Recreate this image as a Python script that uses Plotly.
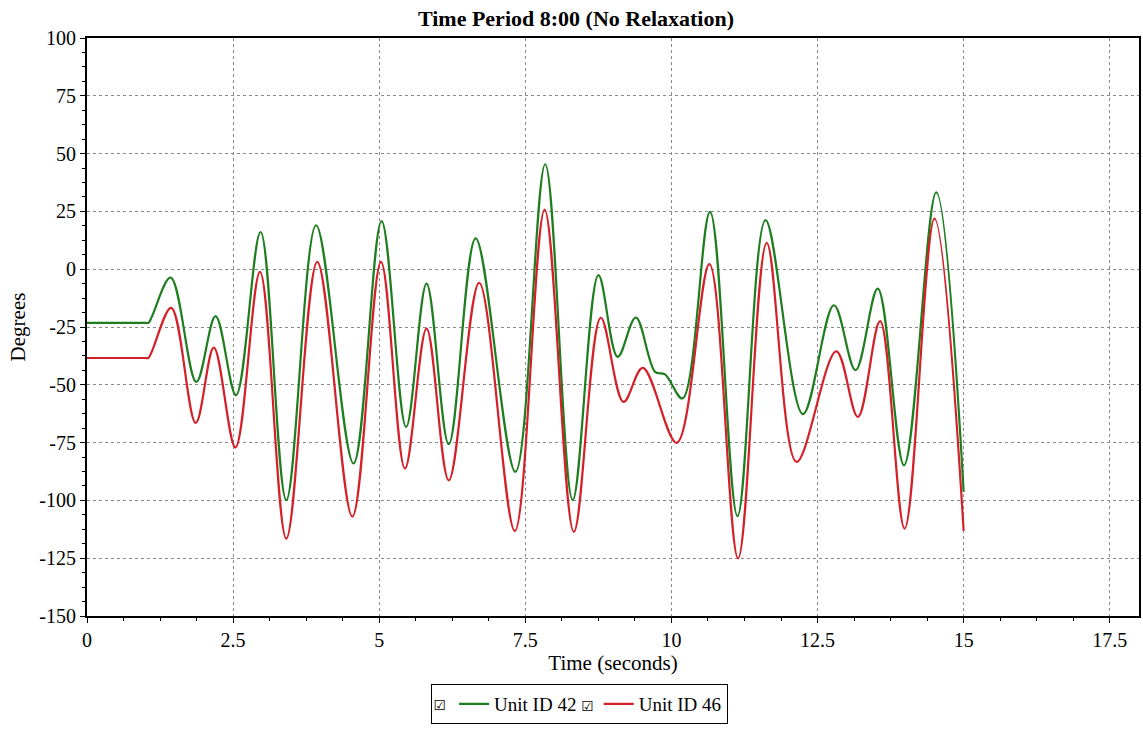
import plotly.graph_objects as go

# ---- data ----
t_42 = [0, 0.5, 1.0, 1.05, 1.43, 1.87, 2.20, 2.55, 2.97, 3.41, 3.92, 4.56, 5.04, 5.46, 5.81,
        6.19, 6.65, 7.33, 7.84, 8.31, 8.75, 9.08, 9.39, 9.72, 9.89, 10.19, 10.66, 11.13,
        11.61, 12.25, 12.78, 13.15, 13.53, 13.98, 14.53, 15.0]
deg_42 = [-23.2, -23.2, -23.2, -23.2, -3.6, -48.7, -20.3, -54.5, 16.1, -99.9, 19.0, -84.0, 20.8,
          -68.2, -6.2, -75.7, 13.3, -87.7, 45.4, -99.9, -2.6, -37.9, -20.9, -44.4, -45.5,
          -55.9, 24.8, -106.8, 21.2, -62.7, -15.6, -43.7, -8.4, -84.8, 33.2, -96.3]

t_46 = [0, 0.5, 1.0, 1.05, 1.44, 1.86, 2.17, 2.54, 2.96, 3.41, 3.94, 4.54, 5.03, 5.44, 5.81,
        6.19, 6.71, 7.32, 7.83, 8.33, 8.79, 9.18, 9.51, 10.09, 10.65, 11.14, 11.63, 12.14,
        12.82, 13.19, 13.57, 13.99, 14.50, 15.0]
deg_46 = [-38.4, -38.4, -38.4, -38.4, -16.7, -66.5, -33.9, -77.1, -1.2, -116.5, 3.2, -107.0, 3.2,
          -86.2, -25.7, -91.3, -5.9, -113.2, 25.8, -113.6, -21.0, -57.4, -42.7, -75.1, 2.2,
          -125.1, 11.4, -83.3, -35.5, -63.9, -22.5, -112.2, 21.9, -113.2]

x_ticks = [0, 2.5, 5, 7.5, 10, 12.5, 15, 17.5]
x_tick_text = ["0", "2.5", "5", "7.5", "10", "12.5", "15", "17.5"]
y_ticks = [-150, -125, -100, -75, -50, -25, 0, 25, 50, 75, 100]
y_tick_text = ["-150", "-125", "-100", "-75", "-50", "-25", "0", "25", "50", "75", "100"]

SERIF = "Liberation Serif"
CHECK = "<span style='font-family:DejaVu Sans;font-size:14px'>☑</span>"

fig = go.Figure()
fig.add_trace(go.Scatter(x=t_42, y=deg_42, mode="lines", name="Unit ID 42 " + CHECK,
                         line=dict(color="#1E7D1E", width=2.2, shape="spline", smoothing=1)))
fig.add_trace(go.Scatter(x=t_46, y=deg_46, mode="lines", name="Unit ID 46",
                         line=dict(color="#D42028", width=2.2, shape="spline", smoothing=1)))

axis_common = dict(
    showline=True, linecolor="black", linewidth=2, mirror=True,
    ticks="outside", ticklen=5, tickwidth=1, tickcolor="black",
    showgrid=True, gridcolor="#8a8a8a", gridwidth=1, griddash="3px,3px",
    zeroline=False, tickfont=dict(family=SERIF, size=20, color="black"),
)

fig.update_xaxes(range=[0, 18], tickvals=x_ticks, ticktext=x_tick_text,
                 minor=dict(ticks="outside", ticklen=3, dtick=0.625, tick0=0, tickcolor="black", showgrid=False),
                 title=dict(text="Time (seconds)", font=dict(family=SERIF, size=21, color="black"), standoff=4),
                 **axis_common)
fig.update_yaxes(range=[-150, 100], tickvals=y_ticks, ticktext=y_tick_text,
                 minor=dict(ticks="outside", ticklen=3, dtick=6.25, tick0=0, tickcolor="black", showgrid=False),
                 title=dict(text="Degrees", font=dict(family=SERIF, size=21, color="black"), standoff=8),
                 **axis_common)

fig.update_layout(
    width=1143, height=730,
    margin=dict(l=87, r=2, t=38, b=114),
    paper_bgcolor="white", plot_bgcolor="white",
    title=dict(text="<b>Time Period 8:00 (No Relaxation)</b>", x=576 / 1143, xanchor="center",
               y=1 - 18 / 730, yanchor="middle", yref="container",
               font=dict(family=SERIF, size=22, color="black")),
    legend=dict(orientation="h", xref="container", yref="container",
                x=579 / 1143, xanchor="center", y=1 - 724 / 730, yanchor="bottom",
                bordercolor="black", borderwidth=1, bgcolor="white",
                title=dict(text=CHECK, side="left", font=dict(family=SERIF, size=19, color="black")),
                font=dict(family=SERIF, size=19, color="black"),
                itemwidth=30, tracegroupgap=0),
    showlegend=True,
)

fig.write_html("out.html")
